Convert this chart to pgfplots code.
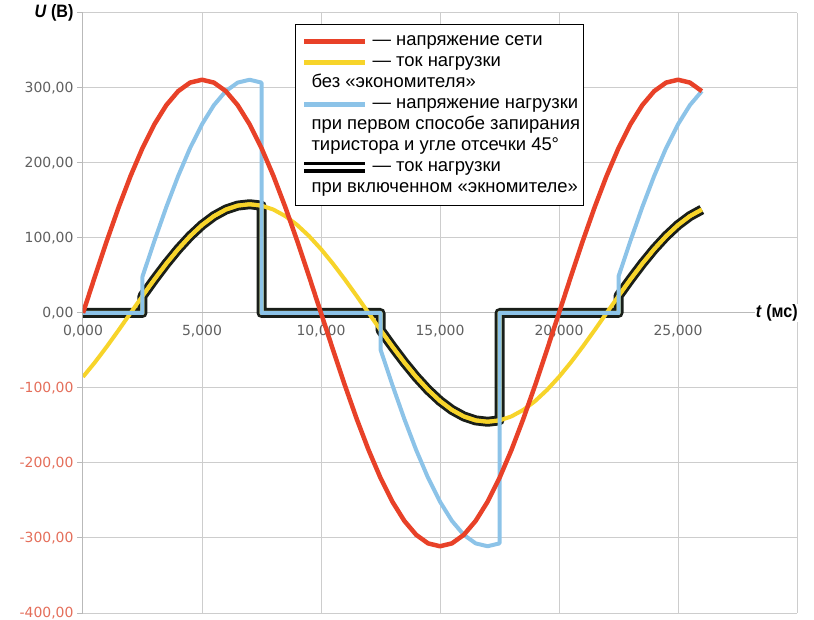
\documentclass[border=0pt]{standalone}
\usepackage{fontspec}
\setmainfont{Liberation Sans}
\newfontfamily\tickfont{DejaVu Sans}
\newfontfamily\labfont{Liberation Sans}[FakeStretch=0.9]
\usepackage{pgfplots}
\pgfplotsset{compat=1.18}
\definecolor{cred}{RGB}{232,65,40}
\definecolor{cyel}{RGB}{247,212,42}
\definecolor{cblue}{RGB}{140,195,232}
\definecolor{cblack}{RGB}{25,30,25}
\definecolor{cgrid}{RGB}{205,205,205}
\definecolor{caxis}{RGB}{185,185,185}
\definecolor{ctick}{RGB}{95,95,95}
\definecolor{cneg}{RGB}{228,110,90}
\begin{document}
\begin{tikzpicture}
\begin{axis}[
  name=ax,
  width=714bp, height=600bp, scale only axis,
  xmin=0, xmax=30, ymin=-400, ymax=400,
  axis x line=middle, axis y line=left,
  axis line style={-, draw=caxis, line width=1bp},
  every inner x axis line/.append style={-},
  every outer x axis line/.append style={-},
  every inner y axis line/.append style={-},
  every outer y axis line/.append style={-},
  hide obscured x ticks=false, hide obscured y ticks=false,
  xtick={0,5,...,30},
  xticklabels={{0,000},{5,000},{10,000},{15,000},{20,000},{25,000},{}},
  ytick={-400,-300,...,400},
  yticklabels={
    \textcolor{cneg}{-400,00},
    \textcolor{cneg}{-300,00},
    \textcolor{cneg}{-200,00},
    \textcolor{cneg}{-100,00},
    {0,00},{100,00},{200,00},{300,00},
    \raisebox{-4bp}{\textcolor{black}{\labfont\bfseries\fontsize{18}{18}\selectfont\textit{U} (B)}}},
  grid=major, grid style={cgrid, line width=1bp},
  tick align=outside, major tick length=6bp,
  xtick style={draw=none},
  ytick style={draw=caxis, line width=1bp},
  ticklabel style={font=\tickfont\fontsize{14}{14}\selectfont, text=ctick},
  xticklabel style={yshift=-3bp},
  xlabel={\labfont\bfseries\fontsize{18}{18}\selectfont\textit{t} (мс)},
  xlabel style={at={(rel axis cs:1,0.5)}, anchor=east, fill=white, inner sep=1bp, xshift=2bp},
  legend image code/.code={\draw[#1] (0bp,0bp) -- (61bp,0bp);},
  legend cell align=left,
  legend style={
    at={(0.297,0.982)}, anchor=north west,
    draw=black, line width=1bp, fill=white,
    inner xsep=3bp, inner ysep=7.5bp,
    row sep=2bp, column sep=2bp,
    font=\fontsize{18.5}{21}\selectfont,
    nodes={inner sep=0pt, text height=14bp, text depth=5bp},
  },
]
\addlegendimage{cred, line width=5bp}
\addlegendentry{— напряжение сети}
\addlegendimage{cyel, line width=5bp}
\addlegendentry{— ток нагрузки}
\addlegendimage{empty legend}
\addlegendentry{\hspace*{-61bp}без «экономителя»}
\addlegendimage{cblue, line width=5bp}
\addlegendentry{— напряжение нагрузки}
\addlegendimage{empty legend}
\addlegendentry{\hspace*{-61bp}при первом способе запирания}
\addlegendimage{empty legend}
\addlegendentry{\hspace*{-61bp}тиристора и угле отсечки 45°}
\addlegendimage{draw=black, line width=3.5bp, double=white, double distance=4bp}
\addlegendentry{— ток нагрузки}
\addlegendimage{empty legend}
\addlegendentry{\hspace*{-61bp}при включенном «экномителе»}

% load current with economizer (black double line)
\addplot[forget plot, draw=cblack, line width=3bp, double=cyel, double distance=4bp, line join=round] coordinates {
(0,0) (2.5,0) (2.5,22.7) (3,44.8) (3.5,65.8) (4,85.2) (4.5,102.5) (5,117.3) (5.5,129.2) (6,137.9) (6.5,143.2) (7,145) (7.5,143.2) (7.5,0)
(12.5,0) (12.5,-22.7) (13,-44.8) (13.5,-65.8) (14,-85.2) (14.5,-102.5) (15,-117.3) (15.5,-129.2) (16,-137.9) (16.5,-143.2) (17,-145) (17.5,-143.2) (17.5,0)
(22.5,0) (22.5,22.7) (23,44.8) (23.5,65.8) (24,85.2) (24.5,102.5) (25,117.3) (25.5,129.2) (26,137.9)
};
% load current without economizer (yellow)
\addplot[forget plot, cyel, line width=4bp, line join=round] coordinates {
(0,-85.2) (0.5,-65.8) (1,-44.8) (1.5,-22.7) (2,0) (2.5,22.7) (3,44.8) (3.5,65.8) (4,85.2) (4.5,102.5) (5,117.3) (5.5,129.2) (6,137.9) (6.5,143.2) (7,145) (7.5,143.2) (8,137.9) (8.5,129.2) (9,117.3) (9.5,102.5) (10,85.2) (10.5,65.8) (11,44.8) (11.5,22.7) (12,0) (12.5,-22.7) (13,-44.8) (13.5,-65.8) (14,-85.2) (14.5,-102.5) (15,-117.3) (15.5,-129.2) (16,-137.9) (16.5,-143.2) (17,-145) (17.5,-143.2) (18,-137.9) (18.5,-129.2) (19,-117.3) (19.5,-102.5) (20,-85.2) (20.5,-65.8) (21,-44.8) (21.5,-22.7) (22,0) (22.5,22.7) (23,44.8) (23.5,65.8) (24,85.2) (24.5,102.5) (25,117.3) (25.5,129.2) (26,137.9)
};
% load voltage (blue)
\addplot[forget plot, cblue, line width=4bp, line join=round] coordinates {
(0,0) (2.5,0) (2.5,48.6) (3,96.1) (3.5,141.2) (4,182.8) (4.5,219.9) (5,251.6) (5.5,277.1) (6,295.8) (6.5,307.2) (7,311) (7.5,307.2) (7.5,0)
(12.5,0) (12.5,-48.6) (13,-96.1) (13.5,-141.2) (14,-182.8) (14.5,-219.9) (15,-251.6) (15.5,-277.1) (16,-295.8) (16.5,-307.2) (17,-311) (17.5,-307.2) (17.5,0)
(22.5,0) (22.5,48.6) (23,96.1) (23.5,141.2) (24,182.8) (24.5,219.9) (25,251.6) (25.5,277.1) (26,295.8)
};
% mains voltage (red)
\addplot[forget plot, cred, line width=4.5bp, line join=round] coordinates {
(0,0) (0.5,48.6) (1,96.1) (1.5,141.2) (2,182.8) (2.5,219.9) (3,251.6) (3.5,277.1) (4,295.8) (4.5,307.2) (5,311) (5.5,307.2) (6,295.8) (6.5,277.1) (7,251.6) (7.5,219.9) (8,182.8) (8.5,141.2) (9,96.1) (9.5,48.6) (10,0) (10.5,-48.6) (11,-96.1) (11.5,-141.2) (12,-182.8) (12.5,-219.9) (13,-251.6) (13.5,-277.1) (14,-295.8) (14.5,-307.2) (15,-311) (15.5,-307.2) (16,-295.8) (16.5,-277.1) (17,-251.6) (17.5,-219.9) (18,-182.8) (18.5,-141.2) (19,-96.1) (19.5,-48.6) (20,0) (20.5,48.6) (21,96.1) (21.5,141.2) (22,182.8) (22.5,219.9) (23,251.6) (23.5,277.1) (24,295.8) (24.5,307.2) (25,311) (25.5,307.2) (26,295.8)
};
\end{axis}
\pgfresetboundingbox
\path ([shift={(-83bp,-7bp)}]ax.south west) rectangle ([shift={(17bp,13bp)}]ax.north east);
\end{tikzpicture}
\end{document}
